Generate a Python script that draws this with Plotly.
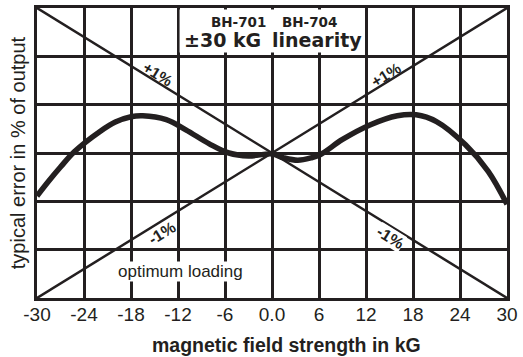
import plotly.graph_objects as go

# data
field_kG = [-30, -28.5, -27, -25.2, -22, -20, -18, -16.5, -13.5, -11, -8, -5.5, -3, 0,
            1.5, 3.3, 5, 6.2, 9, 12.5, 16, 18.4, 21, 24.7, 27.6, 30]
error_pct = [-0.89, -0.58, -0.29, 0.03, 0.44, 0.64, 0.75, 0.77, 0.69, 0.48, 0.19, 0.0, -0.06, -0.02,
             -0.1, -0.15, -0.1, -0.03, 0.28, 0.58, 0.77, 0.79, 0.65, 0.17, -0.38, -1.06]

tick_vals = [-30, -24, -18, -12, -6, 0, 6, 12, 18, 24, 30]
tick_text = ["-30", "-24", "-18", "-12", "-6", "0.0", "6", "12", "18", "24", "30"]

plus_line_x = [-30, 30]
plus_line_y = [3, -3]
minus_line_x = [-30, 30]
minus_line_y = [-3, 3]

INK = "#231f20"
FONT = "Liberation Sans, Arial, sans-serif"
WIDE = "DejaVu Sans, Verdana, sans-serif"

fig = go.Figure()
fig.add_trace(go.Scatter(x=plus_line_x, y=plus_line_y, mode="lines",
                         line=dict(color=INK, width=2.5), hoverinfo="skip"))
fig.add_trace(go.Scatter(x=minus_line_x, y=minus_line_y, mode="lines",
                         line=dict(color=INK, width=2.5), hoverinfo="skip"))
fig.add_trace(go.Scatter(x=field_kG, y=error_pct, mode="lines",
                         line=dict(color=INK, width=5.5, shape="spline", smoothing=1.0),
                         hoverinfo="skip"))

# white title box over top-row grid
fig.add_shape(type="rect", x0=-11.8, x1=11.8, y0=2.08, y1=2.97, xref="x", yref="y",
              fillcolor="white", line=dict(width=0), layer="between")

ann = []
def add(text, x, y, size, bold=False, angle=0, bg=None, xref="x", yref="y", family=FONT):
    ann.append(dict(text=("<b>%s</b>" % text) if bold else text, x=x, y=y, xref=xref, yref=yref,
                    showarrow=False, textangle=angle,
                    font=dict(family=family, size=size, color=INK),
                    bgcolor=bg, borderpad=0, xanchor="center", yanchor="middle"))

add("BH-701", -4.28, 2.71, 13.5, bold=True, family=WIDE)
add("BH-704", 4.73, 2.71, 13.5, bold=True, family=WIDE)
add("±30 kG", -6.36, 2.335, 19, bold=True, family=WIDE)
add("linearity", 5.8, 2.335, 19, bold=True, family=WIDE)

add("+1%", -14.5, 1.63, 15.5, bold=True, angle=31.6)
add("+1%", 14.6, 1.63, 15.5, bold=True, angle=-31.6)
add("-1%", -14.1, -1.67, 16, bold=True, angle=-31.6)
add("-1%", 15.1, -1.75, 16, bold=True, angle=31.6, bg="white")

add("optimum loading", -11.7, -2.45, 17, bg="white")

add("magnetic field strength in kG", 1.83, -0.162, 19.5, bold=True, yref="paper")
add("typical error in % of output", -0.04, 0.0, 20, angle=-90, xref="paper")

fig.update_layout(
    width=523, height=357,
    margin=dict(l=37, r=10, t=5, b=59),
    paper_bgcolor="white", plot_bgcolor="white",
    showlegend=False,
    annotations=ann,
    font=dict(family=FONT, color=INK),
)
fig.update_xaxes(range=[-30, 30], tickvals=tick_vals, ticktext=tick_text,
                 showgrid=True, gridcolor=INK, gridwidth=3, zeroline=False,
                 showline=True, linecolor=INK, linewidth=3, mirror=True,
                 ticks="", ticklabeloverflow="allow", ticklabelstandoff=-3,
                 tickfont=dict(family=FONT, size=19, color=INK), fixedrange=True)
fig.update_yaxes(range=[-3, 3], dtick=1, tick0=0, showticklabels=False,
                 showgrid=True, gridcolor=INK, gridwidth=3, zeroline=False,
                 showline=True, linecolor=INK, linewidth=3, mirror=True,
                 ticks="", fixedrange=True)

fig.write_html("out.html", config={"displayModeBar": False})
